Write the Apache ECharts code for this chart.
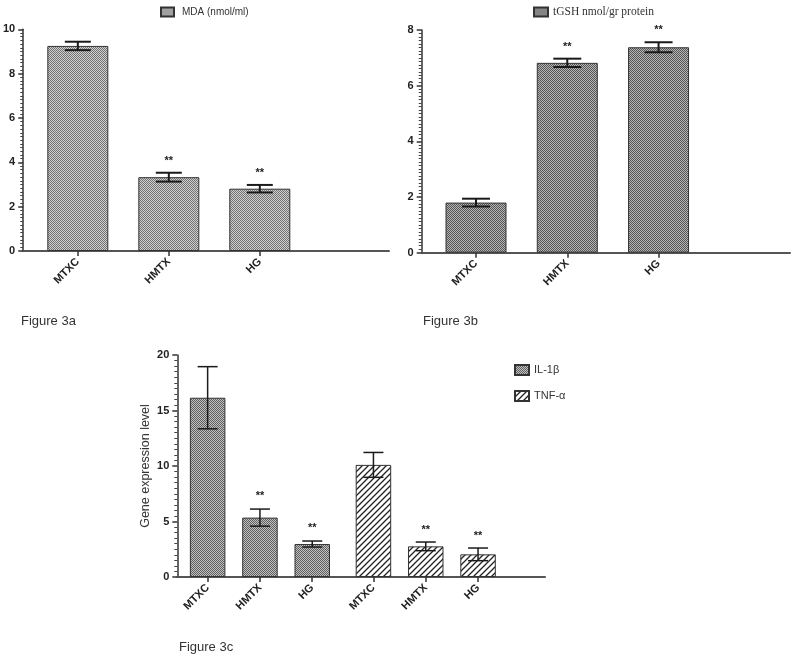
<!DOCTYPE html>
<html><head><meta charset="utf-8">
<script src="https://cdn.jsdelivr.net/npm/echarts@6/dist/echarts.min.js"></script>
<style>html,body{margin:0;padding:0;background:#fff}#c{width:796px;height:661px}</style>
</head><body><div id="c"></div>
<script>
// ---------- data ----------
const groups = ['MTXC', 'HMTX', 'HG'];
// Figure 3a: MDA (nmol/ml)
const mdaMean = [9.25, 3.33, 2.81];
const mdaErr  = [0.19, 0.20, 0.17];
const mdaSig  = ['', '**', '**'];
// Figure 3b: tGSH nmol/gr protein
const gshMean = [1.80, 6.82, 7.38];
const gshErr  = [0.14, 0.15, 0.18];
const gshSig  = ['', '**', '**'];
// Figure 3c: gene expression
const il1bMean = [16.15, 5.35, 2.97];
const il1bErr  = [2.80, 0.77, 0.27];
const il1bSig  = ['', '**', '**'];
const tnfMean  = [10.10, 2.76, 2.04];
const tnfErr   = [1.12, 0.39, 0.57];
const tnfSig   = ['', '**', '**'];

// ---------- patterns ----------
function checker(dark, light) {
  const c = document.createElement('canvas'); c.width = 2; c.height = 2;
  const g = c.getContext('2d');
  g.fillStyle = light; g.fillRect(0, 0, 2, 2);
  g.fillStyle = dark; g.fillRect(0, 0, 1, 1); g.fillRect(1, 1, 1, 1);
  return { image: c, repeat: 'repeat' };
}
function hatch() {
  const s = 6;
  const c = document.createElement('canvas'); c.width = s; c.height = s;
  const g = c.getContext('2d');
  g.fillStyle = '#fff'; g.fillRect(0, 0, s, s);
  g.strokeStyle = '#222'; g.lineWidth = 1.3;
  g.beginPath();
  g.moveTo(0, s); g.lineTo(s, 0);
  g.moveTo(-1, 1); g.lineTo(1, -1);
  g.moveTo(s - 1, s + 1); g.lineTo(s + 1, s - 1);
  g.stroke();
  return { image: c, repeat: 'repeat' };
}
const patA = checker('#727272', '#d0d0d0');
const patB = checker('#555', '#b6b6b6');
const patIL = checker('#606060', '#c0c0c0');
const patTNF = hatch();

// x positions (category slots) on a value axis
const xsAB = groups.map((g, i) => i);
const groupGap = 0.17;
const xsIL = groups.map((g, i) => i);
const xsTNF = groups.map((g, i) => i + groups.length + groupGap);

const FONT = 'Arial, "Liberation Sans", sans-serif';

function xAx(idx, min, max, xs) {
  const map = {};
  xs.forEach((v, i) => map[v.toFixed(2)] = groups[i % groups.length]);
  return {
    type: 'value', gridIndex: idx, min: min, max: max,
    splitLine: { show: false },
    axisLine: { show: true, onZero: false, lineStyle: { color: '#555', width: 2 } },
    axisTick: { show: true, customValues: xs, length: 5, lineStyle: { color: '#333', width: 1.5 } },
    axisLabel: { customValues: xs, rotate: 45, margin: 9, fontSize: 11, fontWeight: 'bold',
      color: '#222', fontFamily: FONT, formatter: v => map[Number(v).toFixed(2)] || '' }
  };
}
function yAx(idx, max, interval, minorSplit, extra) {
  return Object.assign({
    type: 'value', gridIndex: idx, min: 0, max: max, interval: interval,
    splitLine: { show: false },
    axisLine: { show: true, onZero: false, lineStyle: { color: '#333', width: 1.5 } },
    axisTick: { show: true, length: 5, lineStyle: { color: '#333', width: 1.5 } },
    minorTick: { show: true, splitNumber: minorSplit, length: 3, lineStyle: { color: '#444', width: 1 } },
    axisLabel: { margin: 8, fontSize: 11, fontWeight: 'bold', color: '#222', fontFamily: FONT }
  }, extra || {});
}
function barSeries(idx, name, xs, mean, color, width) {
  return {
    type: 'bar', name: name, xAxisIndex: idx, yAxisIndex: idx, barWidth: width, barGap: '-100%',
    data: mean.map((m, k) => [xs[k], m]),
    itemStyle: { color: color, borderColor: '#333', borderWidth: 1 },
    emphasis: { disabled: true }, silent: true
  };
}
function errSeries(idx, xs, mean, err, sig, capW, lw, starGap) {
  return {
    type: 'custom', xAxisIndex: idx, yAxisIndex: idx, z: 10, silent: true,
    data: mean.map((m, k) => [xs[k], m - err[k], m + err[k], k]),
    renderItem: (params, api) => {
      const x = api.value(0), lo = api.value(1), hi = api.value(2), k = api.value(3);
      const pLo = api.coord([x, lo]), pHi = api.coord([x, hi]);
      const h = capW / 2;
      const st = { stroke: '#1a1a1a', lineWidth: lw };
      const ch = [
        { type: 'line', shape: { x1: pLo[0], y1: pLo[1], x2: pHi[0], y2: pHi[1] }, style: st },
        { type: 'line', shape: { x1: pHi[0] - h, y1: pHi[1], x2: pHi[0] + h, y2: pHi[1] }, style: st },
        { type: 'line', shape: { x1: pLo[0] - h, y1: pLo[1], x2: pLo[0] + h, y2: pLo[1] }, style: st }
      ];
      if (sig[k]) ch.push({ type: 'text', x: pHi[0], y: pHi[1] - starGap,
        style: { text: sig[k], textAlign: 'center', textVerticalAlign: 'middle',
          font: 'bold 11px ' + FONT, fill: '#222' } });
      return { type: 'group', children: ch };
    }
  };
}

const chart = echarts.init(document.getElementById('c'), null, { renderer: 'canvas' });
const titleStyle = { fontSize: 13, fontWeight: 'normal', color: '#333', fontFamily: FONT };
chart.setOption({
  animation: false,
  backgroundColor: '#fff',
  title: [
    { text: 'Figure 3a', left: 21, top: 315, padding: 0, textStyle: titleStyle },
    { text: 'Figure 3b', left: 423, top: 315, padding: 0, textStyle: titleStyle },
    { text: 'Figure 3c', left: 179, top: 641, padding: 0, textStyle: titleStyle }
  ],
  legend: [
    { data: ['MDA (nmol/ml)'], left: 160, top: 6.5, padding: 0, itemWidth: 13, itemHeight: 9, icon: 'rect',
      textStyle: { fontSize: 10, color: '#333', fontFamily: FONT, padding: [0, 0, 0, 3] } },
    { data: ['tGSH nmol/gr protein'], left: 533, top: 6, padding: 0, itemWidth: 14, itemHeight: 9, icon: 'rect',
      textStyle: { fontSize: 11.5, color: '#333', fontFamily: '"Liberation Serif", "Times New Roman", serif' } },
    { data: ['IL-1β', 'TNF-α'], orient: 'vertical', left: 514, top: 364, padding: 0, itemGap: 14, icon: 'rect',
      itemWidth: 14, itemHeight: 10, textStyle: { fontSize: 11, color: '#333', fontFamily: FONT } }
  ],
  grid: [
    { left: 20, top: 29.3, width: 369, height: 221.7 },
    { left: 421.7, top: 30, width: 368.3, height: 222.7 },
    { left: 177.3, top: 355, width: 367.7, height: 222 }
  ],
  xAxis: [
    xAx(0, -0.6, 3.42, xsAB),
    xAx(1, -0.595, 3.44, xsAB),
    xAx(2, -0.58, 6.45, xsIL.concat(xsTNF))
  ],
  yAxis: [
    yAx(0, 10, 2, 12),
    yAx(1, 8, 2, 16),
    yAx(2, 20, 5, 10, { name: 'Gene expression level', nameLocation: 'middle', nameGap: 25,
      nameTextStyle: { fontSize: 12.5, color: '#333', fontFamily: FONT } })
  ],
  series: [
    barSeries(0, 'MDA (nmol/ml)', xsAB, mdaMean, patA, 61),
    errSeries(0, xsAB, mdaMean, mdaErr, mdaSig, 26, 2, 12),
    barSeries(1, 'tGSH nmol/gr protein', xsAB, gshMean, patB, 61),
    errSeries(1, xsAB, gshMean, gshErr, gshSig, 28, 2, 12),
    barSeries(2, 'IL-1β', xsIL, il1bMean, patIL, 35.5),
    errSeries(2, xsIL, il1bMean, il1bErr, il1bSig, 20, 1.5, 13),
    barSeries(2, 'TNF-α', xsTNF, tnfMean, patTNF, 35.5),
    errSeries(2, xsTNF, tnfMean, tnfErr, tnfSig, 20, 1.5, 12)
  ]
});
</script></body></html>
